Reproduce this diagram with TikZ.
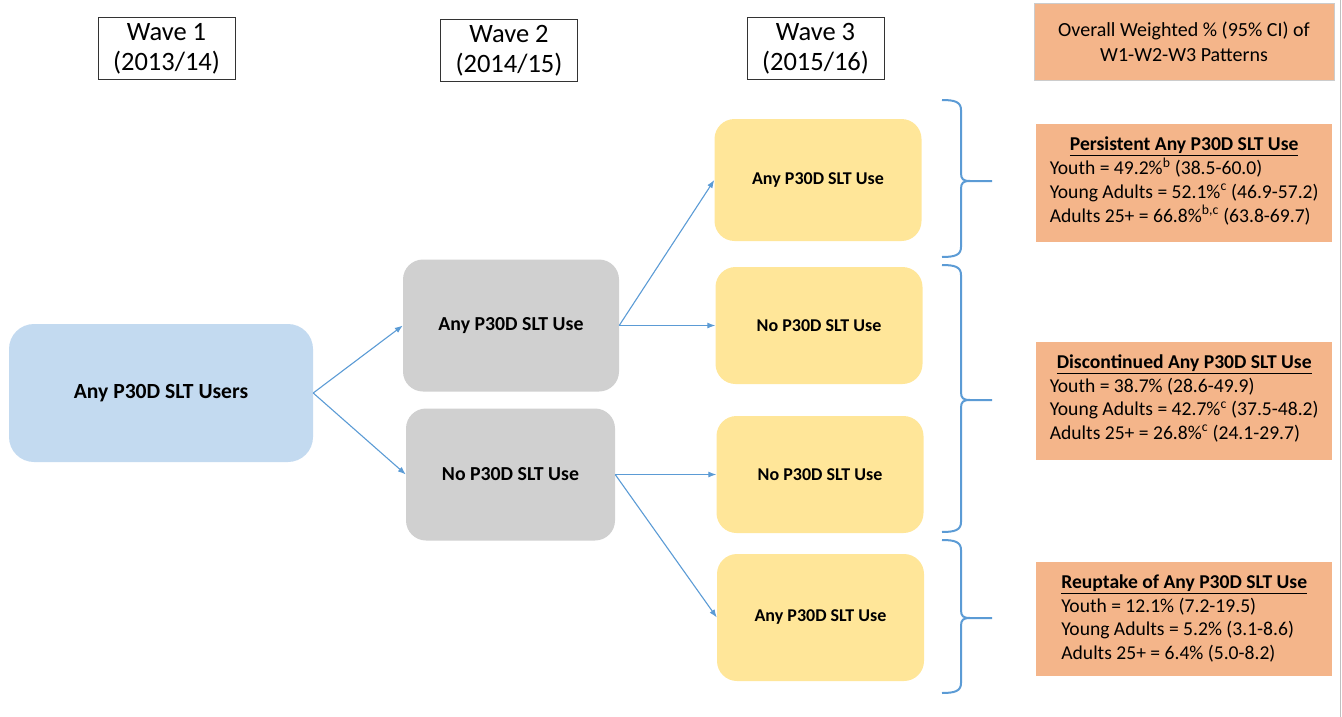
\documentclass[tikz,border=0pt]{standalone}
\usepackage{fontspec}
\setmainfont{Carlito}
\usetikzlibrary{arrows.meta, positioning}
\definecolor{sfill}{RGB}{195,218,240}
\definecolor{gfill}{RGB}{208,208,208}
\definecolor{yfill}{RGB}{255,230,153}
\definecolor{ofill}{RGB}{244,181,138}
\definecolor{bline}{RGB}{91,155,213}
% right curly brace: top, tip, bottom
\newcommand{\resbrace}[3]{%
  \draw[curly] (942,#1) .. controls (955,#1) and (961,{#1+2}) .. (961,{#1+10})
    -- (961,{#2-8}) .. controls (961,{#2-2}) and (963,#2) .. (970,#2) -- (992,#2)
    (970,#2) .. controls (963,#2) and (961,{#2+2}) .. (961,{#2+8})
    -- (961,{#3-10}) .. controls (961,{#3-2}) and (955,#3) .. (942,#3);}

\begin{document}
\begin{tikzpicture}[
  x=1pt, y=-1pt,
  wave/.style={draw=black!80, line width=1pt, align=center, inner sep=0pt,
               font=\fontsize{26.5}{30}\selectfont, minimum width=137, minimum height=62},
  box/.style={rounded corners=20pt, align=center, inner sep=0pt,
              font=\fontsize{19.8}{22}\selectfont\bfseries},
  start/.style={box, fill=sfill, rounded corners=25pt, minimum width=304,
                minimum height=138, font=\fontsize{21.6}{24}\selectfont\bfseries},
  w2/.style={box, fill=gfill, minimum height=132},
  w3/.style={box, fill=yfill, minimum width=207, font=\fontsize{18}{20}\selectfont\bfseries},
  res/.style={fill=ofill, inner sep=0pt, minimum width=296, minimum height=118},
  restext/.style={inner sep=0pt, font=\fontsize{19.6}{23.5}\selectfont},
  flow/.style={-{Latex[length=8pt, width=6pt]}, draw=bline, line width=1.1pt},
  curly/.style={draw=bline, line width=2pt},
]
\useasboundingbox (0,0) rectangle (1342,717);
\draw[black!25, line width=1pt] (1340,0) -- (1340,717);

% wave headers
\node[wave] (wave1) at (166.5,49) {Wave 1\\(2013/14)};
\node[wave] (wave2) at (509,50.5) {Wave 2\\(2014/15)};
\node[wave] (wave3) at (815.5,49) {Wave 3\\(2015/16)};
\node[res, draw=black!20, line width=1pt, minimum width=300, minimum height=77, align=center,
      font=\fontsize{20}{25}\selectfont] (overall) at (1184,42)
  {Overall Weighted \% (95\% CI) of\\W1-W2-W3 Patterns};

% pathways
\node[start] (users) at (161,393) {Any P30D SLT Users};
\node[w2, minimum width=216] (anyW2) at (511,325.5) {Any P30D SLT Use};
\node[w2, minimum width=209] (noW2) at (510.5,474.5) {No P30D SLT Use};
\node[w3, minimum height=122] (anyA) at (818,180) {Any P30D SLT Use};
\node[w3, minimum height=117] (noA) at (819,325.5) {No P30D SLT Use};
\node[w3, minimum height=117] (noB) at (820,474.5) {No P30D SLT Use};
\node[w3, minimum height=127] (anyB) at (820.5,617.5) {Any P30D SLT Use};

\draw[flow] (users.east) -- (anyW2.west);
\draw[flow] (users.east) -- (noW2.west);
\draw[flow] (anyW2.east) -- (anyA.west);
\draw[flow] (anyW2.east) -- (noA.west);
\draw[flow] (noW2.east) -- (noB.west);
\draw[flow] (noW2.east) -- (anyB.west);

\resbrace{100}{181}{257}
\resbrace{265}{400}{532}
\resbrace{540}{618}{693}

% weighted patterns
\node[res, anchor=north west] (pers) at (1036,124) {};
\node[restext, below=10pt of pers.north] (persT) {\begin{tabular}{@{}l@{}}
  \multicolumn{1}{@{}c@{}}{\bfseries\underline{Persistent Any P30D SLT Use}}\\
  Youth = 49.2\%\textsuperscript{b} (38.5-60.0)\\
  Young Adults = 52.1\%\textsuperscript{c} (46.9-57.2)\\
  Adults 25+ = 66.8\%\textsuperscript{b,c} (63.8-69.7)
\end{tabular}};
\node[res, anchor=north west] (disc) at (1036,342) {};
\node[restext, below=10pt of disc.north] (discT) {\begin{tabular}{@{}l@{}}
  \multicolumn{1}{@{}c@{}}{\bfseries\underline{Discontinued Any P30D SLT Use}}\\
  Youth = 38.7\% (28.6-49.9)\\
  Young Adults = 42.7\%\textsuperscript{c} (37.5-48.2)\\
  Adults 25+ = 26.8\%\textsuperscript{c} (24.1-29.7)
\end{tabular}};
\node[res, anchor=north west, minimum height=114] (reup) at (1036,562) {};
\node[restext, below=10pt of reup.north] (reupT) {\begin{tabular}{@{}l@{}}
  \multicolumn{1}{@{}c@{}}{\bfseries\underline{Reuptake of Any P30D SLT Use}}\\
  Youth = 12.1\% (7.2-19.5)\\
  Young Adults = 5.2\% (3.1-8.6)\\
  Adults 25+ = 6.4\% (5.0-8.2)
\end{tabular}};
\end{tikzpicture}
\end{document}
